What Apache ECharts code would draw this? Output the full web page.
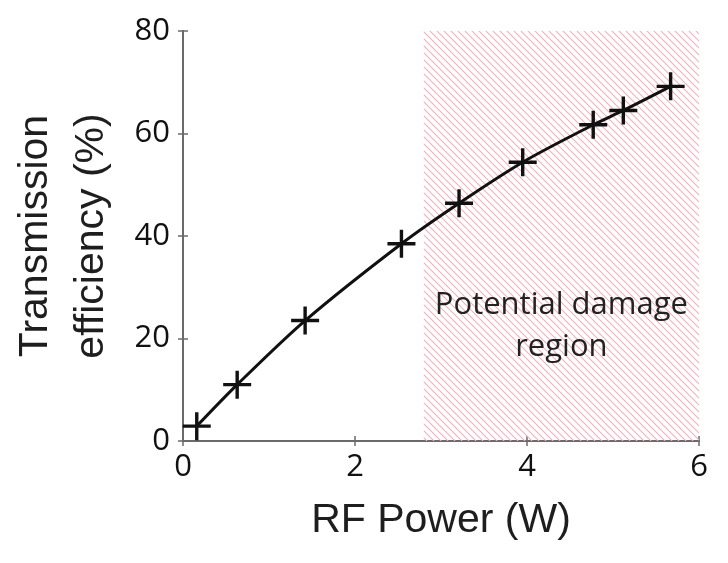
<!DOCTYPE html>
<html>
<head>
<meta charset="utf-8">
<script src="https://cdn.jsdelivr.net/npm/echarts@6/dist/echarts.min.js"></script>
<style>html,body{margin:0;padding:0;background:#fff;}#c{width:728px;height:563px;}</style>
</head>
<body>
<div id="c"></div>
<script>
const rfPower = [0.16, 0.63, 1.42, 2.54, 3.21, 3.95, 4.77, 5.12, 5.67];
const efficiency = [2.9, 11.0, 23.5, 38.5, 46.4, 54.4, 61.7, 64.5, 69.2];
const damageStart = 2.8;
const damageEnd = 6;
const xTicks = [0, 2, 4, 6];
const yTicks = [0, 20, 40, 60, 80];
const xTitle = 'RF Power (W)';
const yTitle = 'Transmission\nefficiency (%)';
const regionLabel = 'Potential damage\nregion';

function hatch() {
  const s = 7, cv = document.createElement('canvas');
  cv.width = s; cv.height = s;
  const g = cv.getContext('2d');
  g.strokeStyle = '#f3b0bc';
  g.lineWidth = 1.1;
  g.beginPath();
  g.moveTo(-1, -1); g.lineTo(s + 1, s + 1);
  g.moveTo(-1, s - 1); g.lineTo(1, s + 1);
  g.moveTo(s - 1, -1); g.lineTo(s + 1, 1);
  g.stroke();
  return cv;
}

const chart = echarts.init(document.getElementById('c'), null, {renderer: 'canvas'});
const plus = 'path://M-1.7,-14 L1.7,-14 L1.7,-1.7 L14,-1.7 L14,1.7 L1.7,1.7 L1.7,14 L-1.7,14 L-1.7,1.7 L-14,1.7 L-14,-1.7 L-1.7,-1.7 Z';
const axisLine = {show: true, lineStyle: {color: '#6b6b6b', width: 2}};
const tick = {show: true, inside: true, length: 5, lineStyle: {color: '#6b6b6b', width: 1.5}};
const labelFont = {fontFamily: 'Open Sans', fontSize: 31, color: '#111'};

chart.setOption({
  animation: false,
  backgroundColor: '#fff',
  grid: {left: 178, top: 31, right: 29, bottom: 122},
  xAxis: [
    {type: 'value', min: xTicks[0], max: xTicks[xTicks.length - 1], interval: 2, position: 'bottom',
     axisLine: axisLine, axisTick: tick, splitLine: {show: false},
     axisLabel: Object.assign({margin: 11}, labelFont),
     name: xTitle, nameLocation: 'middle', nameGap: 59,
     nameTextStyle: {fontFamily: 'Liberation Sans', fontSize: 41, color: '#1e1e1e'}},
    {type: 'value', min: xTicks[0], max: xTicks[xTicks.length - 1], interval: 2, position: 'top',
     axisLine: axisLine, axisTick: tick, splitLine: {show: false}, axisLabel: {show: false}}
  ],
  yAxis: [
    {type: 'value', min: yTicks[0], max: yTicks[yTicks.length - 1], interval: 20, position: 'left',
     axisLine: axisLine, axisTick: tick, splitLine: {show: false},
     axisLabel: Object.assign({margin: 13}, labelFont),
     name: yTitle, nameLocation: 'middle', nameGap: 63, nameRotate: 90,
     nameTextStyle: {fontFamily: 'Liberation Sans', fontSize: 41, lineHeight: 56, color: '#1e1e1e'}},
    {type: 'value', min: yTicks[0], max: yTicks[yTicks.length - 1], interval: 20, position: 'right',
     axisLine: axisLine, axisTick: tick, splitLine: {show: false}, axisLabel: {show: false}}
  ],
  series: [
    {type: 'line', data: [], z: 1, silent: true,
     markArea: {silent: true,
       itemStyle: {color: {image: hatch(), repeat: 'repeat'}},
       label: {show: true, position: 'inside', offset: [0, 90], formatter: regionLabel,
               fontFamily: 'Open Sans', fontSize: 31, lineHeight: 42, color: '#222', align: 'center'},
       data: [[{xAxis: damageStart}, {xAxis: damageEnd}]]}},
    {type: 'line', z: 5, smooth: 0.3,
     data: rfPower.map((x, i) => [x, efficiency[i]]),
     symbol: plus, symbolSize: 28,
     itemStyle: {color: '#111'},
     lineStyle: {color: '#111', width: 3}}
  ]
});
</script>
</body>
</html>
